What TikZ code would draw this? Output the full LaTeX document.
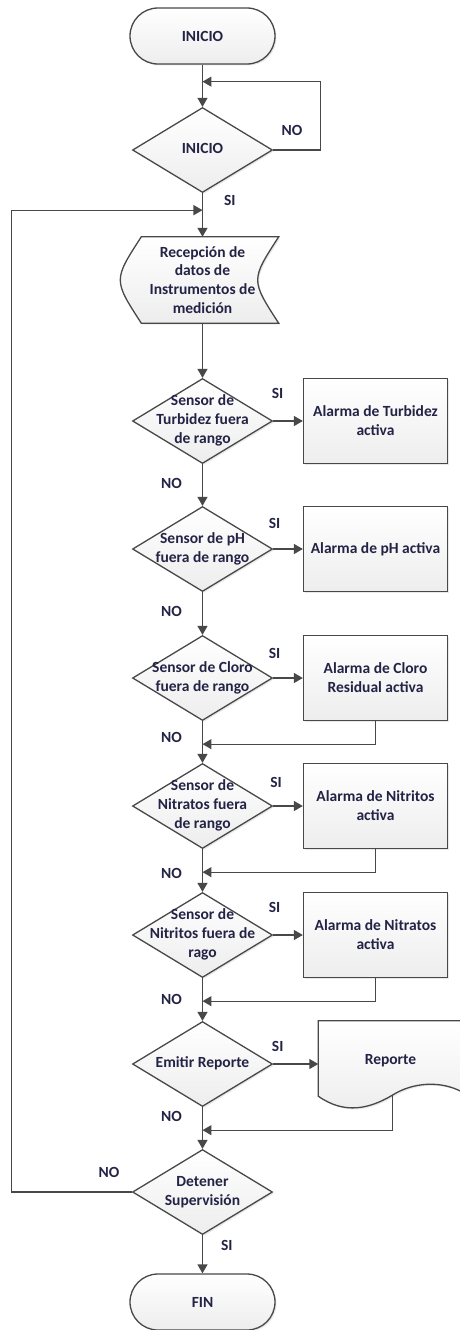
\documentclass[tikz,border=0pt]{standalone}
\usepackage{fontspec}
\setmainfont{Carlito}
\usetikzlibrary{shapes.geometric, arrows.meta, positioning, backgrounds, shadows}
\definecolor{ink}{RGB}{35,35,70}
\definecolor{edge}{RGB}{72,72,72}
\newcommand{\dlines}[1]{\makebox[0pt]{\begin{tabular}{@{}c@{}}#1\end{tabular}}}

\begin{document}
\begin{tikzpicture}[node distance=128pt, auto, >={Triangle[length=9pt,width=10pt]},
    every node/.style={font=\fontsize{15.5}{18.8}\selectfont\bfseries, text=ink},
    base/.style={draw=edge, line width=1.3pt, top color=white, bottom color=black!7,
                 drop shadow={opacity=0.18, shadow xshift=1.5pt, shadow yshift=-1.5pt}},
    term/.style={base, rectangle, rounded corners=28pt, minimum width=145pt, minimum height=56pt},
    decision/.style={base, diamond, aspect=1.65, minimum width=140pt, minimum height=85pt, inner sep=0pt},
    alarm/.style={base, rectangle, minimum width=144pt, minimum height=85pt, align=center},
    store/.style={minimum width=140pt, minimum height=86pt, inner sep=0pt, align=center},
    report/.style={minimum width=144pt, minimum height=86pt, inner sep=0pt},
    link/.style={draw=edge, line width=1.3pt},
    lbl/.style={inner sep=0pt}]
  \useasboundingbox (-202.5pt,36pt) rectangle (256.5pt,-1294pt);

  \node[term] (start) {INICIO};
  \node[decision, below of=start, node distance=114pt] (d0) {\dlines{INICIO}};
  \node[store, below of=d0, node distance=130pt] (rec) {Recepción de\\datos de\\Instrumentos de\\medición};
  \node[decision, below of=rec, node distance=141pt] (d1) {\dlines{Sensor de\\Turbidez fuera\\de rango}};
  \node[decision, below of=d1] (d2) {\dlines{Sensor de pH\\fuera de rango}};
  \node[decision, below of=d2, node distance=129pt] (d3) {\dlines{Sensor de Cloro\\fuera de rango}};
  \node[decision, below of=d3] (d4) {\dlines{Sensor de\\Nitratos fuera\\de rango}};
  \node[decision, below of=d4, node distance=129pt] (d5) {\dlines{Sensor de\\Nitritos fuera de\\rago}};
  \node[decision, below of=d5, node distance=129pt] (d6) {\dlines{Emitir Reporte}};
  \node[decision, below of=d6] (d7) {\dlines{Detener\\Supervisión}};
  \node[term, below of=d7, node distance=110pt] (fin) {FIN};

  \node[alarm, right of=d1, node distance=173pt] (b1) {Alarma de Turbidez\\activa};
  \node[alarm, right of=d2, node distance=173pt] (b2) {Alarma de pH activa};
  \node[alarm, right of=d3, node distance=173pt] (b3) {Alarma de Cloro\\Residual activa};
  \node[alarm, right of=d4, node distance=173pt] (b4) {Alarma de Nitritos\\activa};
  \node[alarm, right of=d5, node distance=173pt] (b5) {Alarma de Nitratos\\activa};
  \node[report, right of=d6, node distance=188pt] (rep) {\raisebox{10pt}{Reporte}};
  \coordinate (repw) at ([shift={(74pt,12pt)}]rep.south west);

  \begin{scope}[on background layer]
    \path[base] ([xshift=9pt]rec.north west) -- ([xshift=6pt]rec.north east)
      .. controls ([xshift=-22pt]rec.east) .. ([xshift=6pt]rec.south east)
      -- ([xshift=9pt]rec.south west) .. controls ([xshift=-19pt]rec.west) .. cycle;
    \path[base] (rep.north west) -- (rep.north east) -- ([yshift=15pt]rep.south east)
      .. controls ([shift={(-22pt,27pt)}]rep.south east) and ([shift={(-50pt,25pt)}]rep.south east) .. (repw)
      .. controls ([shift={(52pt,-1pt)}]rep.south west) and ([shift={(27pt,-8pt)}]rep.south west) .. ([yshift=11pt]rep.south west)
      -- cycle;
  \end{scope}

  \coordinate[below=17pt of start] (j0);
  \coordinate[below=17pt of d0] (j1);
  \coordinate[below=23pt of d3] (j3);
  \coordinate[below=23pt of d4] (j4);
  \coordinate[below=23pt of d5] (j5);
  \coordinate[below=23pt of d6] (j6);

  \draw[link, ->] (start) -- (d0);
  \draw[link, ->] (d0.east) -- node[lbl, above=14pt, pos=0.4]{NO} ++(47pt,0) |- (j0);
  \draw[link, ->] (d0) -- node[lbl, right=21pt, pos=0.16]{SI} (rec);
  \draw[link, ->] (rec) -- (d1);
  \draw[link, ->] (d1) -- node[lbl, left=20pt, pos=0.47]{NO} (d2);
  \draw[link, ->] (d2) -- node[lbl, left=20pt, pos=0.46]{NO} (d3);
  \draw[link, ->] (d3) -- node[lbl, left=20pt, pos=0.4]{NO} (d4);
  \draw[link, ->] (d4) -- node[lbl, left=20pt, pos=0.58]{NO} (d5);
  \draw[link, ->] (d5) -- node[lbl, left=20pt, pos=0.51]{NO} (d6);
  \draw[link, ->] (d6) -- node[lbl, left=20pt, pos=0.22]{NO} (d7);
  \draw[link, ->] (d7) -- node[lbl, right=18pt, pos=0.26]{SI} (fin);
  \draw[link, ->] (d7.west) -- node[lbl, above=14pt, pos=0.19]{NO} ++(-120pt,0) |- (j1);

  \draw[link, ->] (d1) -- node[lbl, above=22pt, pos=0.15]{SI} (b1);
  \draw[link, ->] (d2) -- node[lbl, above=20pt, pos=0.05]{SI} (b2);
  \draw[link, ->] (d3) -- node[lbl, above=19pt, pos=0.05]{SI} (b3);
  \draw[link, ->] (d4) -- node[lbl, above=18pt, pos=0.1]{SI} (b4);
  \draw[link, ->] (d5) -- node[lbl, above=22pt, pos=0.05]{SI} (b5);
  \draw[link, ->] (d6) -- node[lbl, above=12pt, pos=0.1]{SI} (rep);

  \draw[link, ->] (b3) |- (j3);
  \draw[link, ->] (b4) |- (j4);
  \draw[link, ->] (b5) |- (j5);
  \draw[link, ->] (repw) |- (j6);
\end{tikzpicture}
\end{document}
